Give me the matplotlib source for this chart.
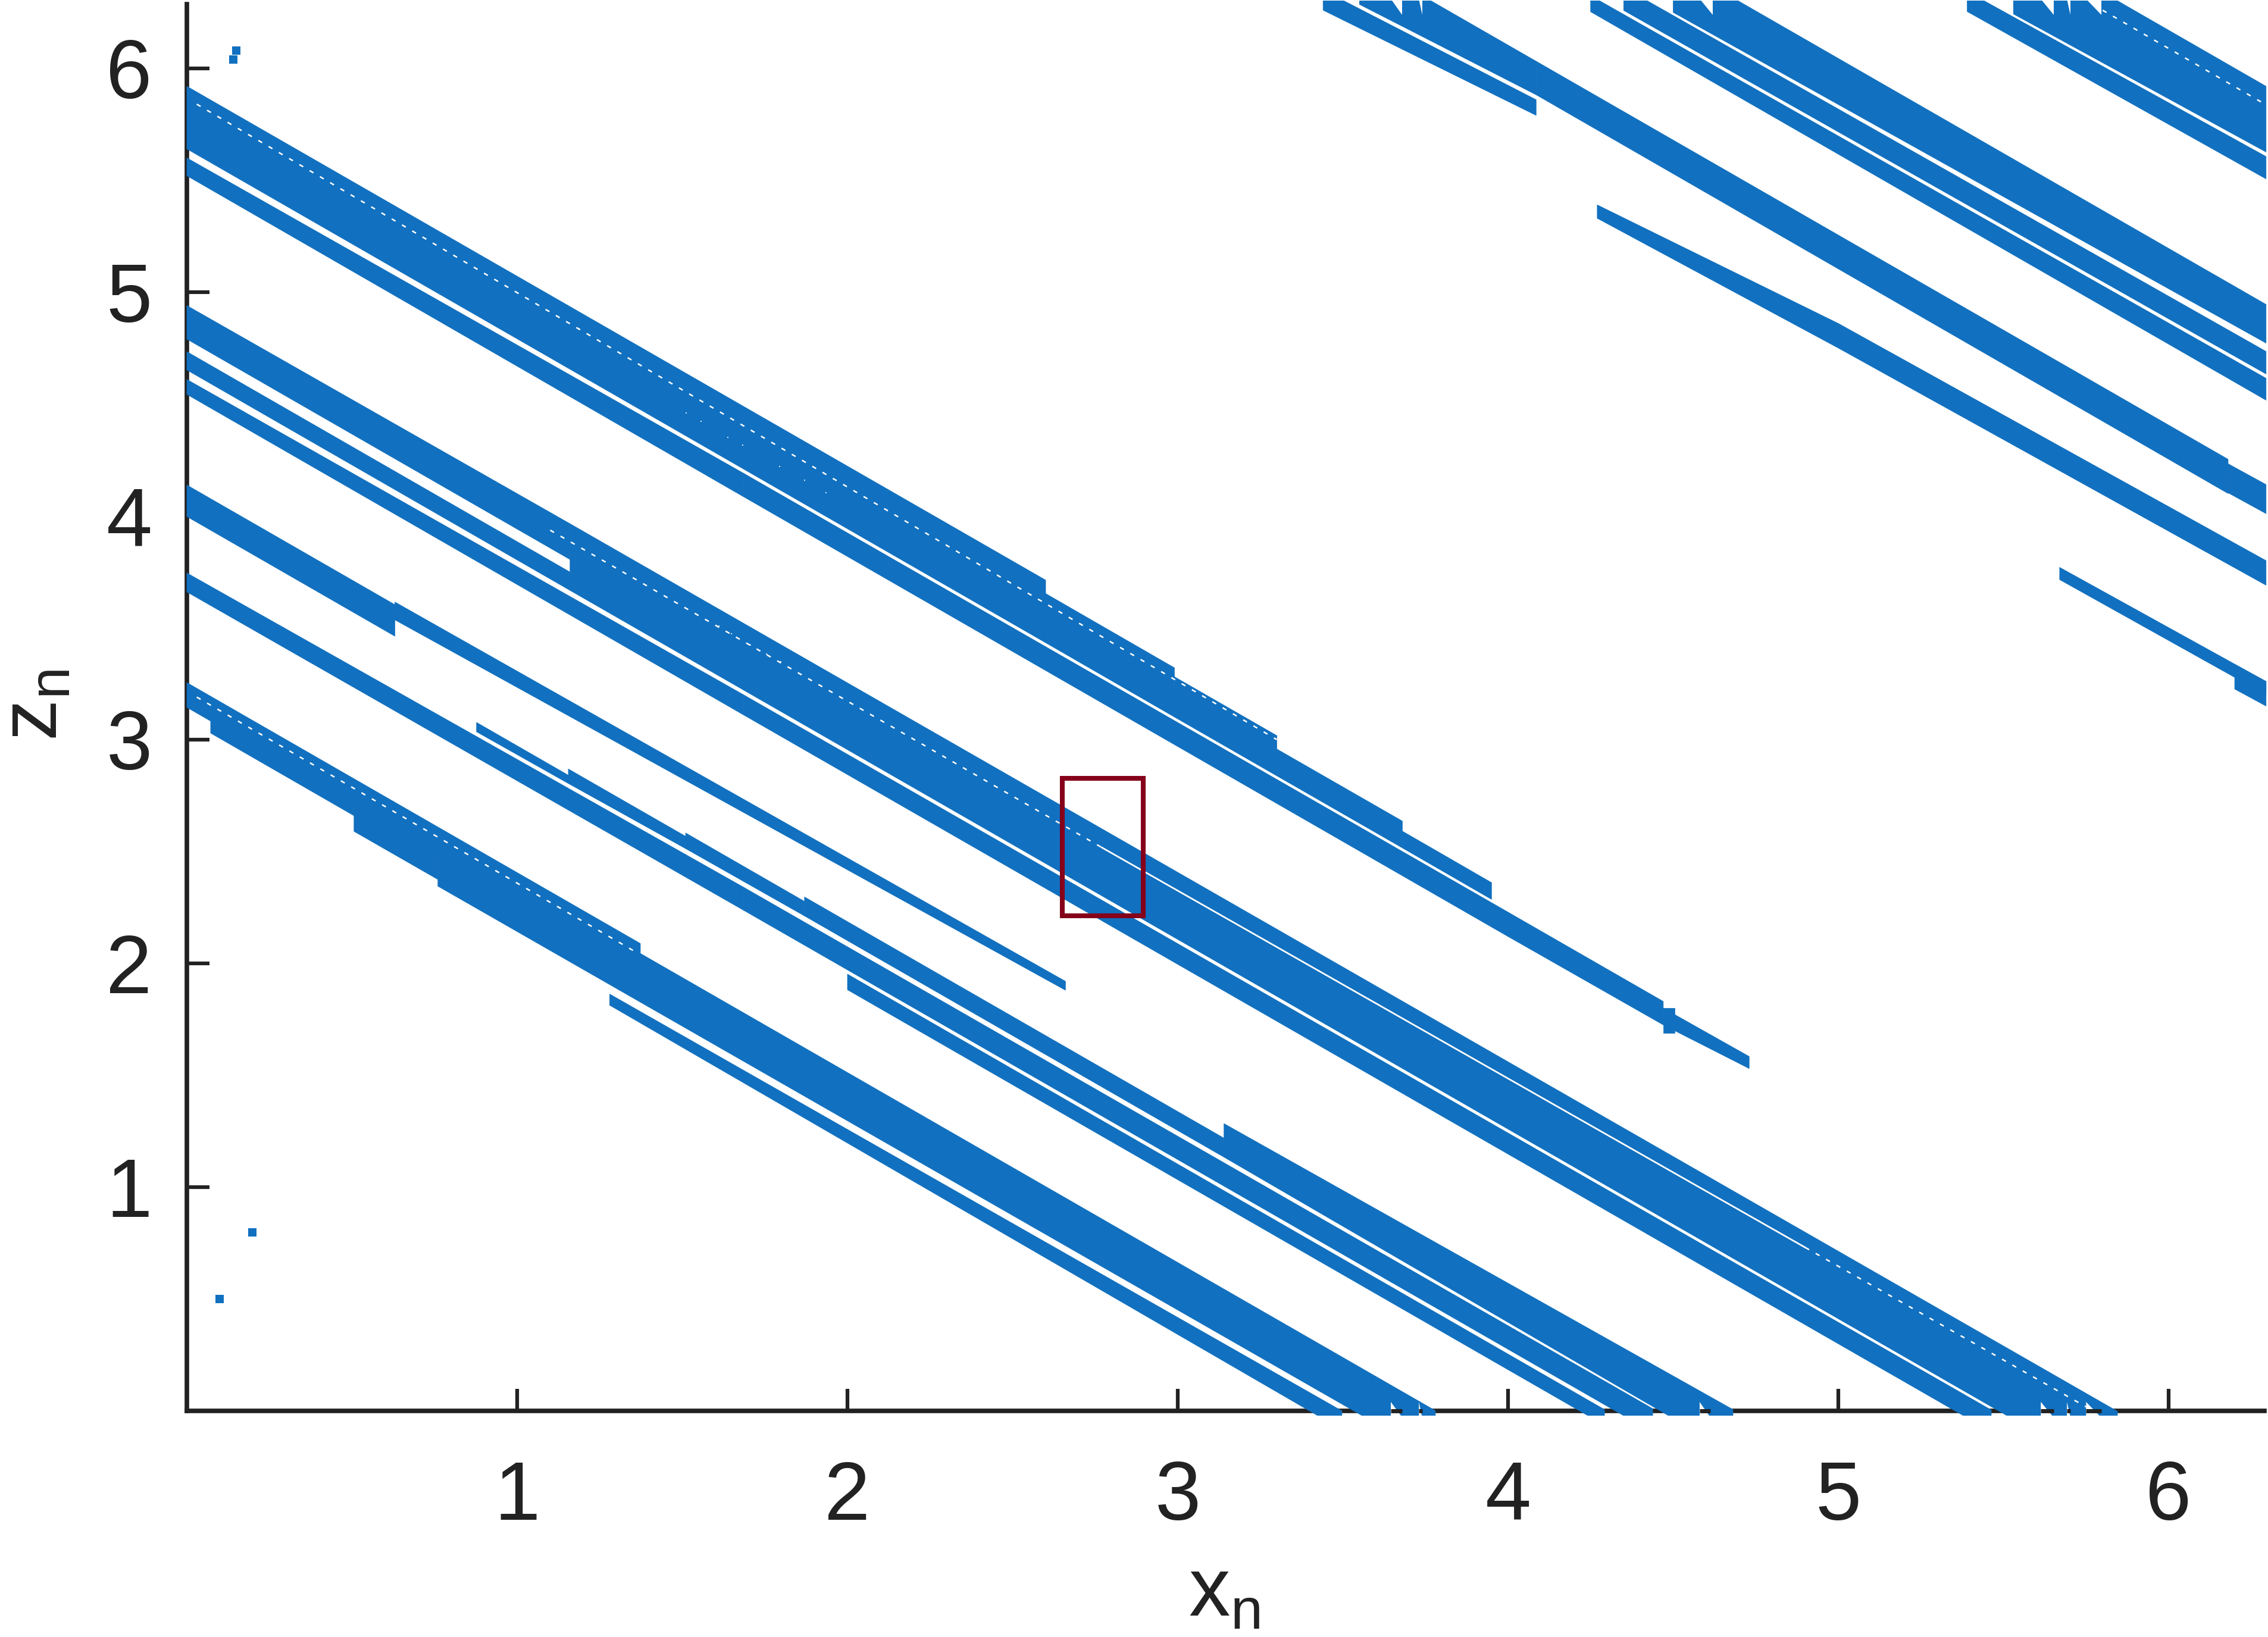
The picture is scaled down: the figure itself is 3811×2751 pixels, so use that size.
import matplotlib
matplotlib.use("Agg")
from matplotlib import pyplot as plt
from matplotlib.patches import Rectangle

plt.rcParams['font.family'] = ['Liberation Sans', 'DejaVu Sans']

blue = '#1170BF'
dark = '#222222'
box_red = '#85001A'

#Blue strips: x range, then z of lower and upper edge at both x ends
strip_x0 = [0.00, 2.60, 2.99, 3.30, 3.68, 0.00, 1.686, 4.00, 4.47, 4.47,
            0.00, 1.16, 0.00, 0.00, 1.686,
            0.00, 0.63,
            0.00, 1.686, 2.00, 0.877, 1.155, 1.51, 1.87, 3.14,
            0.00, 0.072, 0.506, 0.76, 1.28,
            3.44, 3.55, 4.085, 6.18, 4.27, 5.00, 5.67, 6.20,
            4.25, 4.35, 4.50, 5.39, 5.53]
strip_x1 = [2.60, 2.99, 3.30, 3.68, 3.95, 1.686, 4.00, 4.47, 4.73, 4.505,
            1.16, 5.845, 1.16, 1.686, 5.463,
            0.63, 2.66,
            1.686, 4.438, 4.292, 1.155, 1.51, 1.87, 3.14, 4.681,
            1.373, 0.506, 0.76, 3.78, 3.497,
            4.085, 4.085, 6.18, 6.295, 5.00, 6.295, 6.295, 6.295,
            6.295, 6.295, 6.295, 6.295, 6.295]
low_start = [5.64, 3.433, 3.101, 2.838, 2.516, 5.52, 4.085, 2.12, 1.725, 1.69,
             4.79, 3.667, 4.652, 4.543, 3.11,
             3.997, 3.535,
             3.66, 2.237, 1.882, 3.035, 2.804, 2.513, 2.212, 1.134,
             3.144, 3.029, 2.59, 2.345, 1.813,
             6.26, 6.286, 5.882, 4.103, 5.33, 4.75, 3.715, 3.226,
             6.253, 6.259, 6.25, 6.254, 6.243]
high_start = [5.92, 3.653, 3.281, 2.958, 2.591, 5.60, 4.19, 2.229, 1.80, 1.80,
              4.94, 3.965, 4.734, 4.61, 3.20,
              4.138, 3.615,
              3.745, 2.34, 1.952, 3.077, 2.869, 2.583, 2.297, 1.284,
              3.255, 3.139, 2.72, 2.565, 1.863,
              6.35, 6.486, 6.032, 4.233, 5.39, 4.86, 3.77, 3.336,
              6.325, 6.362, 6.469, 6.344, 6.57]
low_end = [3.433, 3.101, 2.838, 2.516, 2.286, 4.085, 2.12, 1.725, 1.53, 1.69,
           3.805, -0.305, 3.667, 3.11, -0.093,
           3.462, 1.88,
           2.237, -0.096, -0.064, 2.804, 2.513, 2.212, 1.134, -0.189,
           1.978, 2.66, 2.375, -0.209, -0.084,
           5.79, 5.882, 4.10, 4.01, 4.75, 3.69, 3.20, 3.15,
           4.517, 4.634, 4.772, 5.506, 5.626]
high_end = [3.713, 3.321, 3.018, 2.636, 2.361, 4.19, 2.229, 1.83, 1.584, 1.80,
            3.965, -0.002, 3.749, 3.20, 0.004,
            3.603, 1.92,
            2.34, 0.01, 0.006, 2.841, 2.568, 2.277, 1.219, 0.006,
            2.089, 2.77, 2.505, 0.001, 0.0,
            5.86, 6.032, 4.253, 4.14, 4.86, 3.80, 3.26, 3.26,
            4.615, 4.735, 4.945, 5.606, 5.92]

#White notches where the strips run into the bottom and the top of the plot
bottom_notch_left = [3.645, 3.73, 4.58, 5.613, 5.692, 5.75]
bottom_notch_right = [3.68, 3.74, 4.613, 5.652, 5.703, 5.796]
top_notch_left = [3.645, 3.73, 4.58, 5.613, 5.692, 5.75]
top_notch_right = [3.68, 3.74, 4.62, 5.652, 5.703, 5.796]

#Broken white lines inside the strips: x0, x1, z0, z1
dot_x0 = [0.03, 1.10, 4.90, 0.03, 5.80]
dot_x1 = [3.30, 2.77, 5.75, 1.36, 6.28]
dot_z0 = [5.84, 3.936, 0.73, 3.19, 6.26]
dot_z1 = [3.00, 2.518, 0.018, 2.05, 5.85]
solid_x0 = [2.77]
solid_x1 = [4.90]
solid_z0 = [2.518]
solid_z1 = [0.73]

#Small white specks
speck_x = [1.512, 1.557, 1.638, 1.683, 1.795, 1.87, 1.935, 1.611, 1.649, 1.706, 1.755, 1.798]
speck_z = [4.46, 4.423, 4.351, 4.317, 4.221, 4.16, 4.104, 3.508, 3.473, 3.423, 3.383, 3.349]

#Stray points
point_x = [0.149, 0.140, 0.199, 0.099]
point_z = [6.08, 6.04, 0.798, 0.50]

#Red box
box_x = [2.65, 2.895]
box_z = [2.213, 2.827]

ticks = [1, 2, 3, 4, 5, 6]

W, H = 3812, 2751
fig = plt.figure(figsize=(W/100, H/100), dpi=100)
ax = fig.add_axes([314/W, (H-2371)/H, (3805-314)/W, (2371-7)/H])
ax.set_xlim(0, 6.29)
ax.set_ylim(0, 6.287)

def clip_to_plot(artist):
    clip = Rectangle((-0.013, -0.022), 6.31, 6.324, transform=ax.transData)
    artist.set_clip_path(clip)

for i in range(len(strip_x0)):
    xs = [strip_x0[i], strip_x1[i], strip_x1[i], strip_x0[i]]
    zs = [low_start[i], low_end[i], high_end[i], high_start[i]]
    for p in ax.fill(xs, zs, color=blue, lw=0.5, zorder=3):
        clip_to_plot(p)

for xl, xr in zip(bottom_notch_left, bottom_notch_right):
    for p in ax.fill([xl, xr, xl], [-0.03, -0.03, 0.04], color='white', lw=0, zorder=3.1):
        p.set_clip_on(False)
    ax.plot([xl, xr], [0, 0], color=dark, lw=5, solid_capstyle='butt', zorder=3.2, clip_on=False)

for xl, xr in zip(top_notch_left, top_notch_right):
    for p in ax.fill([xl, xr, xr], [6.31, 6.31, 6.24], color='white', lw=0, zorder=3.1):
        p.set_clip_on(False)

for i in range(len(dot_x0)):
    ax.plot([dot_x0[i], dot_x1[i]], [dot_z0[i], dot_z1[i]], color='white', lw=1.8,
            ls=(0, (3, 5)), zorder=3.3)
for i in range(len(solid_x0)):
    ax.plot([solid_x0[i], solid_x1[i]], [solid_z0[i], solid_z1[i]], color='white', lw=2, zorder=3.3)
ax.scatter(speck_x, speck_z, marker='s', s=4, color='#DCE8F4', linewidths=0, zorder=3.3)

ax.scatter(point_x, point_z, marker='s', s=112, color=blue, linewidths=0, zorder=3, clip_on=False)

ax.add_patch(Rectangle((box_x[0], box_z[0]), box_x[1]-box_x[0], box_z[1]-box_z[0],
                       fill=False, edgecolor=box_red, lw=5.8, zorder=4))

ax.spines['top'].set_visible(False)
ax.spines['right'].set_visible(False)
ax.spines['left'].set_linewidth(5.5)
ax.spines['bottom'].set_linewidth(5.5)
ax.spines['left'].set_color(dark)
ax.spines['bottom'].set_color(dark)

ax.set_xticks(ticks)
ax.set_yticks(ticks)
ax.tick_params(axis='x', direction='in', length=27, width=4.5, color=dark,
               labelcolor=dark, labelsize=100, pad=59)
ax.tick_params(axis='y', direction='in', length=27, width=4.5, color=dark,
               labelcolor=dark, labelsize=100, pad=42)

fig.text(2057/W, 1-2680/H, r'$\mathregular{x_n}$', fontsize=100, color=dark, ha='center', va='center')
fig.text(60/W, 1-1185/H, r'$\mathregular{z_n}$', fontsize=100, color=dark, ha='center', va='center', rotation=90)

fig.savefig('out.png', dpi=100, facecolor='white')
